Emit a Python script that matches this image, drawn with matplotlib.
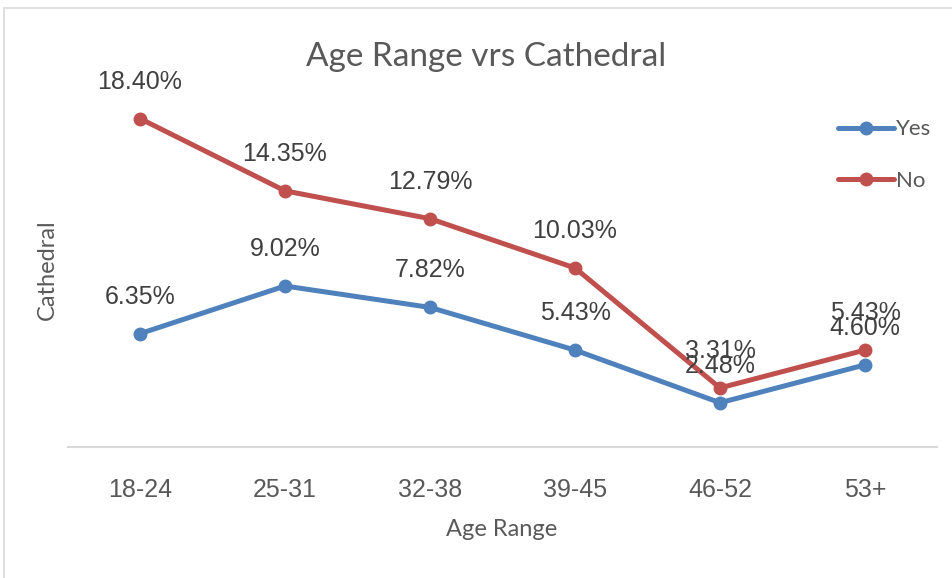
import matplotlib.pyplot as plt
import numpy as np

age_ranges = ['18-24', '25-31', '32-38', '39-45', '46-52', '53+']
yes_pct = [6.35, 9.02, 7.82, 5.43, 2.48, 4.60]
no_pct = [18.40, 14.35, 12.79, 10.03, 3.31, 5.43]

blue = '#4F81BD'
red = '#C0504D'
txt = '#595959'

fig = plt.figure(figsize=(9.53, 5.78), dpi=100)
ax = fig.add_axes([67.5 / 953, 131 / 578, 870 / 953, 357 / 578])

x = np.arange(len(age_ranges))
ax.plot(x, yes_pct, color=blue, lw=3.6, marker='o', ms=9, label='Yes', solid_capstyle='round')
ax.plot(x, no_pct, color=red, lw=3.6, marker='o', ms=9, label='No', solid_capstyle='round')

for series in (yes_pct, no_pct):
    for xi, v in zip(x, series):
        ax.annotate(f'{v:.2f}%', (xi, v), xytext=(0, 37), textcoords='offset pixels',
                    ha='center', va='center', fontsize=18, color='#404040',
                    family='Liberation Sans')

ax.set_xlim(-0.5, len(age_ranges) - 0.5)
ax.set_ylim(0, 20)
ax.set_yticks([])
ax.set_xticks(x)
ax.set_xticklabels(age_ranges, fontsize=18, color=txt, family='Liberation Sans')
ax.tick_params(axis='x', length=0, pad=22)
for s in ['top', 'right', 'left']:
    ax.spines[s].set_visible(False)
ax.spines['bottom'].set_color('#D9D9D9')
ax.spines['bottom'].set_linewidth(1.5)

fig.text(486 / 953, 1 - 57 / 578, 'Age Range vrs Cathedral', ha='center', va='center',
         fontsize=24, color=txt, family='Lato')
fig.text(502 / 953, 1 - 529 / 578, 'Age Range', ha='center', va='center',
         fontsize=17, color=txt, family='Lato')
fig.text(47 / 953, 1 - 270 / 578, 'Cathedral', ha='center', va='center', rotation=90,
         fontsize=17, color=txt, family='Lato')

leg = fig.legend(loc='center left', bbox_to_anchor=(818 / 953, 1 - 155 / 578), frameon=False,
                 labelspacing=1.4, handlelength=2.5, handletextpad=0.1,
                 prop={'family': 'Lato', 'size': 16})
for t in leg.get_texts():
    t.set_color(txt)

# light chart border like the Excel chart area
fig.patches.append(plt.Rectangle((4 / 953, -0.1), 1.2, 1 - 8 / 578 + 0.1, transform=fig.transFigure,
                                 fill=False, edgecolor='#D9D9D9', lw=1.2))

fig.savefig('out.png', dpi=100)
